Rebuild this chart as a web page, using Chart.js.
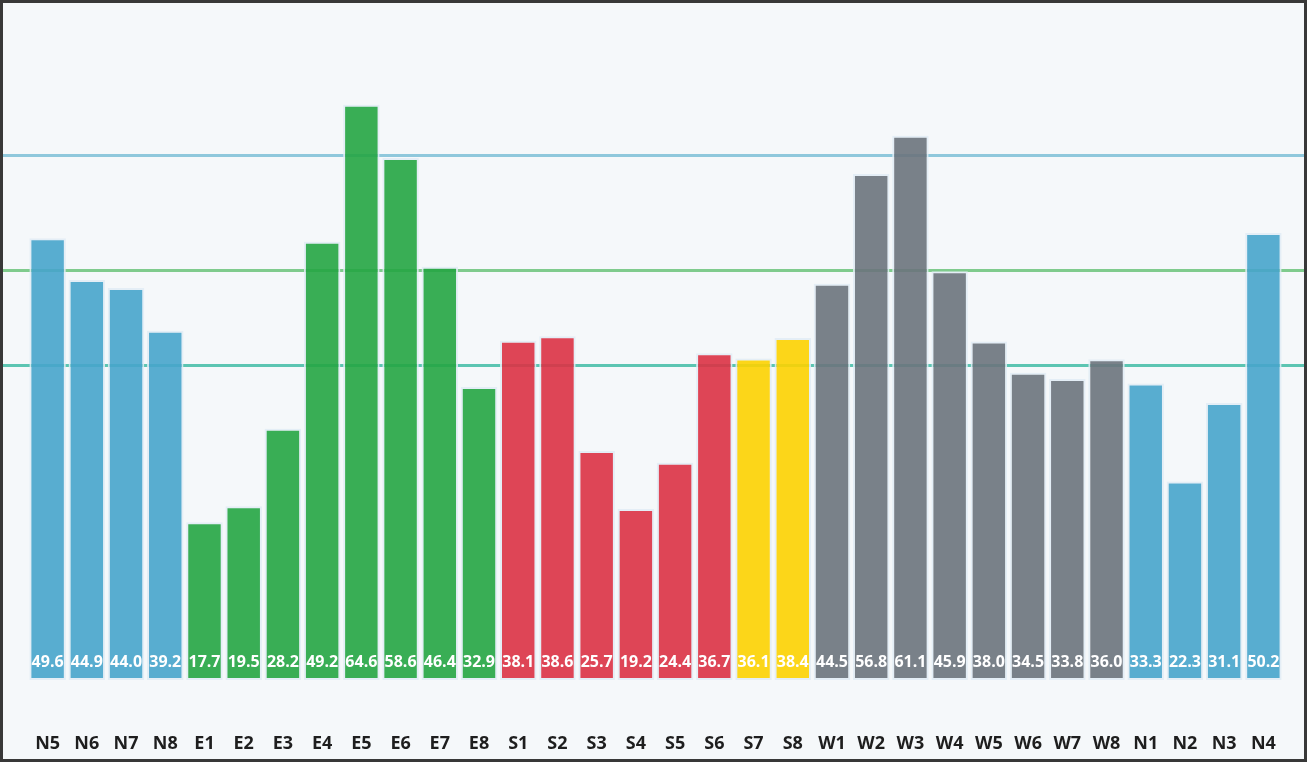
<!DOCTYPE html>
<html>
<head>
<meta charset="utf-8">
<script src="https://cdn.jsdelivr.net/npm/chart.js@4.4.1/dist/chart.umd.min.js"></script>
<style>
html,body{margin:0;padding:0;background:#fff;}
#frame{width:1307px;height:762px;box-sizing:border-box;border:3px solid #383838;background:#f5f8fa;position:relative;overflow:hidden;}
#c{position:absolute;left:0;top:0;display:block;}
</style>
</head>
<body>
<div id="frame"><canvas id="c" width="1301" height="756" style="width:1301px;height:756px"></canvas></div>
<script>
const categories = ['N5','N6','N7','N8','E1','E2','E3','E4','E5','E6','E7','E8','S1','S2','S3','S4','S5','S6','S7','S8','W1','W2','W3','W4','W5','W6','W7','W8','N1','N2','N3','N4'];
const values = [49.6,44.9,44.0,39.2,17.7,19.5,28.2,49.2,64.6,58.6,46.4,32.9,38.1,38.6,25.7,19.2,24.4,36.7,36.1,38.4,44.5,56.8,61.1,45.9,38.0,34.5,33.8,36.0,33.3,22.3,31.1,50.2];
const groups = ['N','N','N','N','E','E','E','E','E','E','E','E','S','S','S','S','S','S','Y','Y','W','W','W','W','W','W','W','W','N','N','N','N'];
const groupColors = {N:'rgba(71,164,203,0.9)', E:'rgba(37,165,67,0.9)', S:'rgba(219,49,68,0.9)', Y:'rgba(253,210,0,0.9)', W:'rgba(107,115,124,0.9)'};
const refValues = [59.0, 46.0, 35.4];
const refColors = ['#8fc8dc', '#7fcb8d', '#5cc5b2'];

const refLines = {
  id:'refLines',
  beforeDatasetsDraw(chart){
    const {ctx, scales:{y}} = chart;
    ctx.save();
    refValues.forEach((v,i)=>{
      const py = Math.round(y.getPixelForValue(v)) + 0.5;
      ctx.strokeStyle = refColors[i];
      ctx.lineWidth = 3;
      ctx.beginPath();
      ctx.moveTo(0, py);
      ctx.lineTo(chart.width, py);
      ctx.stroke();
    });
    ctx.restore();
  }
};

const valueLabels = {
  id:'valueLabels',
  afterDatasetsDraw(chart){
    const {ctx, scales:{y}} = chart;
    const meta = chart.getDatasetMeta(0);
    const base = y.getPixelForValue(0);
    ctx.save();
    ctx.fillStyle = '#ffffff';
    ctx.font = 'bold 16px "Open Sans", sans-serif';
    ctx.textAlign = 'center';
    ctx.textBaseline = 'middle';
    meta.data.forEach((bar,i)=>{
      ctx.fillText(values[i].toFixed(1), bar.x, base - 18);
    });
    ctx.restore();
  }
};

new Chart(document.getElementById('c'), {
  type:'bar',
  data:{
    labels: categories,
    datasets:[{
      data: values,
      backgroundColor: groups.map(g=>groupColors[g]),
      borderColor: 'rgba(225,236,244,0.85)',
      borderWidth: 2,
      borderSkipped: false,
      barPercentage: 0.93,
      categoryPercentage: 1.0
    }]
  },
  options:{
    responsive:false,
    devicePixelRatio:1,
    animation:false,
    layout:{padding:{top:9, left:25, right:21, bottom:0}},
    plugins:{legend:{display:false}, tooltip:{enabled:false}},
    scales:{
      y:{display:false, min:0, max:75},
      x:{
        grid:{display:false, drawTicks:false},
        border:{display:false},
        ticks:{color:'#1e1e1e', font:{family:'"Open Sans", sans-serif', size:18, weight:'bold'}, padding:53, maxRotation:0, autoSkip:false},
        afterFit(scale){ scale.height = 79; scale.paddingLeft = 0; scale.paddingRight = 0; }
      }
    }
  },
  plugins:[refLines, valueLabels]
});
</script>
</body>
</html>
